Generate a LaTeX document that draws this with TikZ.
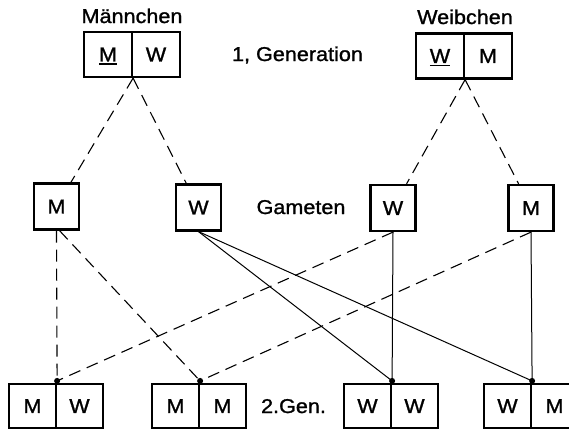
\documentclass[tikz,border=0pt]{standalone}
\usepackage{fontspec}
\setmainfont{Liberation Sans}[FakeStretch=1.08,FakeBold=1.2]
\newcommand\ulet[1]{\setbox0\hbox{#1}\smash{\rlap{\rule[-3.5pt]{\wd0}{1.8pt}}}#1}
\begin{document}
\begin{tikzpicture}[x=1pt,y=-1pt,
  txt/.style={font=\fontsize{20}{24}\selectfont},
  cell/.style={txt,draw,line width=2.2pt,minimum width=48pt,minimum height=45pt,inner sep=0pt},
  botcell/.style={cell,minimum width=47pt,minimum height=44pt},
  gam/.style={cell,minimum width=45pt,minimum height=46pt},
  lbl/.style={txt,anchor=base,inner sep=0pt},
  dsh/.style={line width=1.1pt,dash pattern=on 12pt off 7pt},
  sol/.style={line width=1pt},
  dotnode/.style={circle,fill,inner sep=0pt,minimum size=6pt}]
\useasboundingbox (0,0) rectangle (569,429);
\clip (0,0) rectangle (569,429);

% labels
\node[lbl] (lm) at (132,23) {Männchen};
\node[lbl] (lw) at (465,24) {Weibchen};
\node[lbl] (lg1) at (297.5,61) {1, Generation};
\node[lbl] (lgam) at (301,214) {Gameten};
\node[lbl] (lg2) at (293.5,413) {2.Gen.};

% first generation
\node[cell] (m1l) at (108,54.5) {\ulet{M}};
\node[cell] (m1r) at (156,54.5) {W};
\node[cell] (w1l) at (440,56) {\ulet{W}};
\node[cell] (w1r) at (488,56) {M};

% gametes
\node[gam] (gM1) at (56.5,206.5) {M};
\node[gam] (gW1) at (198.5,207.5) {W};
\node[gam] (gW2) at (393,208) {W};
\node[gam] (gM2) at (531,208) {M};

% second generation
\node[botcell] (b1l) at (32.5,406) {M};
\node[botcell] (b1r) at (79.5,406) {W};
\node[botcell] (b2l) at (175.5,406) {M};
\node[botcell] (b2r) at (222.5,406) {M};
\node[botcell] (b3l) at (367.5,406) {W};
\node[botcell] (b3r) at (414.5,406) {W};
\node[botcell] (b4l) at (507.5,406) {W};
\node[botcell] (b4r) at (554.5,406) {M};

% dots
\node[dotnode,yshift=2pt] (d1) at (b1l.north east) {};
\node[dotnode,yshift=2pt] (d2) at (b2l.north east) {};
\node[dotnode,yshift=2pt] (d3) at (b3l.north east) {};
\node[dotnode,yshift=2pt] (d4) at (b4l.north east) {};

% first generation to gametes
\draw[dsh] (m1l.south east) -- (gM1);
\draw[dsh] (m1l.south east) -- (gW1);
\draw[dsh] (w1l.south east) -- (gW2);
\draw[dsh] (w1l.south east) -- (gM2);

% gametes to second generation
\draw[dsh] (gM1.south) -- (d1.center);
\draw[dsh] ([xshift=3pt]gM1.south) -- (d2.center);
\draw[sol] (gW1.south) -- (d3.center);
\draw[sol] (gW1.south) -- (d4.center);
\draw[dsh] (gW2.south) -- (d1.center);
\draw[sol] (gW2.south) -- (d3.center);
\draw[dsh] (gM2.south) -- (d2.center);
\draw[sol] (gM2.south) -- (d4.center);
\end{tikzpicture}
\end{document}
